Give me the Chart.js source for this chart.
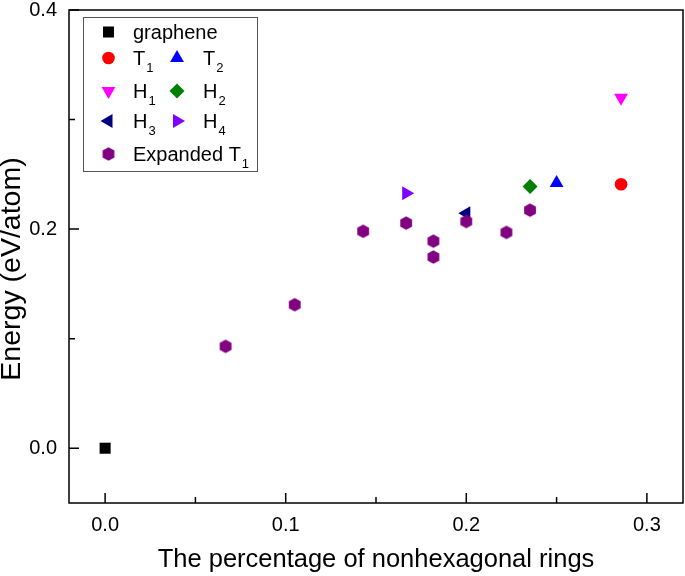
<!DOCTYPE html>
<html>
<head>
<meta charset="utf-8">
<script src="https://cdn.jsdelivr.net/npm/chart.js@4.4.0/dist/chart.umd.min.js"></script>
<style>
  html, body { margin: 0; padding: 0; background: #fff; }
  #wrap { width: 685px; height: 576px; }
</style>
</head>
<body>
<div id="wrap"><canvas id="energyChart" width="685" height="576"></canvas></div>
<script>
// values (x = fraction of nonhexagonal rings, y = eV/atom)
const grapheneX = [0];
const grapheneY = [0];
const t1X = [0.2857];
const t1Y = [0.241];
const t2X = [0.25];
const t2Y = [0.242];
const h1X = [0.2857];
const h1Y = [0.32];
const h2X = [0.2353];
const h2Y = [0.239];
const h3X = [0.2];
const h3Y = [0.2145];
const h4X = [0.1667];
const h4Y = [0.2327];
const expandedX = [0.0667, 0.105, 0.1429, 0.1667, 0.1818, 0.1818, 0.2, 0.2222, 0.2353];
const expandedY = [0.093, 0.131, 0.198, 0.2055, 0.189, 0.1745, 0.207, 0.197, 0.2173];

const xTicks = [0, 0.1, 0.2, 0.3];
const xMinorTicks = [0.05, 0.15, 0.25];
const yTicks = [0, 0.2, 0.4];
const yMinorTicks = [0.1, 0.3];

const FONT = "'Liberation Sans', Arial, sans-serif";

function toPoints(xs, ys) {
  return xs.map((x, i) => ({ x: x, y: ys[i] }));
}

// pointy-top hexagon, not one of the built-in point styles
function makeHexagon(color, r) {
  const c = document.createElement("canvas");
  const size = Math.ceil(r * 2) + 2;
  c.width = size;
  c.height = size;
  const g = c.getContext("2d");
  g.fillStyle = color;
  g.beginPath();
  for (let i = 0; i < 6; i++) {
    const a = Math.PI / 3 * i - Math.PI / 2;
    const px = size / 2 + r * Math.cos(a);
    const py = size / 2 + r * Math.sin(a);
    if (i === 0) g.moveTo(px, py); else g.lineTo(px, py);
  }
  g.closePath();
  g.fill();
  return c;
}

const hexagon = makeHexagon("#800080", 6.8);

// marker styles per series
const series = [
  { key: "expanded", xs: expandedX, ys: expandedY, color: "#800080", style: hexagon, radius: 7, rotation: 0, order: 0 },
  { key: "graphene", xs: grapheneX, ys: grapheneY, color: "#000000", style: "rect", radius: 7.8, rotation: 0, order: 1 },
  { key: "t1", xs: t1X, ys: t1Y, color: "#ff0000", style: "circle", radius: 6.3, rotation: 0, order: 1 },
  { key: "t2", xs: t2X, ys: t2Y, color: "#0000ff", style: "triangle", radius: 8, rotation: 0, order: 1 },
  { key: "h1", xs: h1X, ys: h1Y, color: "#ff00ff", style: "triangle", radius: 8, rotation: 180, order: 1 },
  { key: "h2", xs: h2X, ys: h2Y, color: "#008000", style: "rectRot", radius: 7.5, rotation: 0, order: 1 },
  { key: "h3", xs: h3X, ys: h3Y, color: "#000080", style: "triangle", radius: 8, rotation: 270, order: 2 },
  { key: "h4", xs: h4X, ys: h4Y, color: "#8000ff", style: "triangle", radius: 8, rotation: 90, order: 1 }
];

// legend entries: main text + subscript, placed in a 2-column grid
const legendEntries = [
  { key: "graphene", text: "graphene", sub: "", col: 0, row: 0 },
  { key: "t1", text: "T", sub: "1", col: 0, row: 1 },
  { key: "t2", text: "T", sub: "2", col: 1, row: 1 },
  { key: "h1", text: "H", sub: "1", col: 0, row: 2 },
  { key: "h2", text: "H", sub: "2", col: 1, row: 2 },
  { key: "h3", text: "H", sub: "3", col: 0, row: 3 },
  { key: "h4", text: "H", sub: "4", col: 1, row: 3 },
  { key: "expanded", text: "Expanded T", sub: "1", col: 0, row: 4 }
];
const legendRowY = [32, 58, 91, 121, 154];
const legendMarkerX = [108.5, 177];
const legendTextX = [133, 203];

const framePlugin = {
  id: "framePlugin",
  afterDraw(chart) {
    const ctx = chart.ctx;
    const area = chart.chartArea;
    const sx = chart.scales.x;
    const sy = chart.scales.y;
    ctx.save();

    // box around the plot
    ctx.strokeStyle = "#000";
    ctx.lineWidth = 1.5;
    ctx.strokeRect(area.left, area.top, area.right - area.left, area.bottom - area.top);

    // inward ticks on bottom and left
    ctx.beginPath();
    xTicks.forEach(v => {
      const p = sx.getPixelForValue(v);
      ctx.moveTo(p, area.bottom);
      ctx.lineTo(p, area.bottom - 10);
    });
    xMinorTicks.forEach(v => {
      const p = sx.getPixelForValue(v);
      ctx.moveTo(p, area.bottom);
      ctx.lineTo(p, area.bottom - 6);
    });
    yTicks.forEach(v => {
      const p = sy.getPixelForValue(v);
      ctx.moveTo(area.left, p);
      ctx.lineTo(area.left + 10, p);
    });
    yMinorTicks.forEach(v => {
      const p = sy.getPixelForValue(v);
      ctx.moveTo(area.left, p);
      ctx.lineTo(area.left + 6, p);
    });
    ctx.stroke();

    // y axis title
    ctx.save();
    ctx.translate(12, (area.top + area.bottom) / 2 + 12.5);
    ctx.rotate(-Math.PI / 2);
    ctx.fillStyle = "#000";
    ctx.font = "28.5px " + FONT;
    ctx.textAlign = "center";
    ctx.textBaseline = "middle";
    ctx.fillText("Energy (eV/atom)", 0, 0);
    ctx.restore();

    // legend box
    ctx.fillStyle = "#fff";
    ctx.fillRect(83, 17, 174, 154);
    ctx.strokeStyle = "#555";
    ctx.lineWidth = 1;
    ctx.strokeRect(83.5, 17.5, 174, 154);

    legendEntries.forEach(e => {
      const s = series.find(d => d.key === e.key);
      const y = legendRowY[e.row];
      ctx.fillStyle = s.color;
      Chart.helpers.drawPoint(ctx, { pointStyle: s.style, radius: s.radius, rotation: s.rotation, borderWidth: 0 }, legendMarkerX[e.col], y);
      ctx.fillStyle = "#000";
      ctx.textAlign = "left";
      ctx.textBaseline = "alphabetic";
      ctx.font = "20px " + FONT;
      const tx = legendTextX[e.col];
      ctx.fillText(e.text, tx, y + 7);
      if (e.sub) {
        const w = ctx.measureText(e.text).width;
        ctx.font = "13px " + FONT;
        ctx.fillText(e.sub, tx + w + 1, y + 14);
      }
    });

    ctx.restore();
  }
};

const datasets = series.map(s => ({
  label: s.key,
  data: toPoints(s.xs, s.ys),
  pointStyle: s.style,
  pointRadius: s.radius,
  pointRotation: s.rotation,
  backgroundColor: s.color,
  borderColor: s.color,
  pointBorderWidth: 0,
  order: s.order
}));

new Chart(document.getElementById("energyChart").getContext("2d"), {
  type: "scatter",
  data: { datasets: datasets },
  options: {
    responsive: false,
    animation: false,
    events: [],
    layout: { autoPadding: false, padding: { top: 10, right: 2, left: 0, bottom: 0 } },
    plugins: {
      legend: { display: false },
      tooltip: { enabled: false }
    },
    scales: {
      x: {
        type: "linear",
        min: -0.02,
        max: 0.32,
        afterBuildTicks: s => { s.ticks = xTicks.map(v => ({ value: v })); },
        afterFit: s => {
          s.height = 73;
          s.paddingLeft = 0;
          s.paddingRight = 0;
        },
        grid: { display: false, drawTicks: false },
        border: { display: false },
        ticks: {
          color: "#000",
          font: { family: FONT, size: 20, lineHeight: 1 },
          padding: 12,
          maxRotation: 0,
          callback: v => v.toFixed(1)
        },
        title: {
          display: true,
          text: "The percentage of nonhexagonal rings",
          color: "#000",
          font: { family: FONT, size: 25.5, lineHeight: 1 },
          padding: { top: 0, bottom: 3.5 }
        }
      },
      y: {
        type: "linear",
        min: -0.05,
        max: 0.4,
        afterBuildTicks: s => { s.ticks = yTicks.map(v => ({ value: v })); },
        afterFit: s => {
          s.width = 69;
          s.paddingTop = 0;
          s.paddingBottom = 0;
        },
        grid: { display: false, drawTicks: false },
        border: { display: false },
        ticks: {
          color: "#000",
          font: { family: FONT, size: 20, lineHeight: 1 },
          padding: 12,
          callback: v => v.toFixed(1)
        }
      }
    }
  },
  plugins: [framePlugin]
});
</script>
</body>
</html>
